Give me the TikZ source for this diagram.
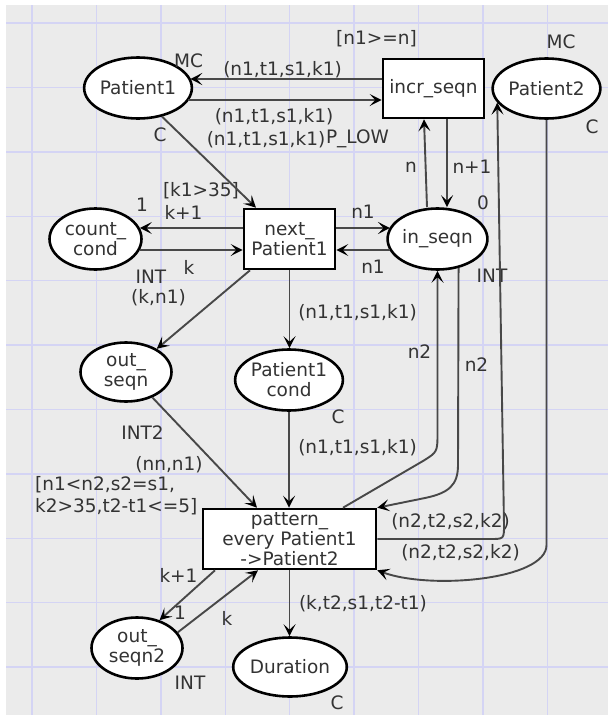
\documentclass[tikz,border=0pt]{standalone}
\usepackage{fontspec}
\setmainfont{DejaVu Sans}
\usetikzlibrary{shapes.geometric,arrows.meta}
\definecolor{canvas}{HTML}{EBEBEB}
\definecolor{gridline}{HTML}{D4D4F4}
\definecolor{arcgray}{HTML}{484848}
\definecolor{ink}{HTML}{333333}
\newcommand\cpnfont{\fontsize{18.5}{20}\selectfont}

\begin{document}
\begin{tikzpicture}[x=1pt,y=-1pt,
  place/.style={ellipse, draw=black, line width=2.6pt, fill=white, inner sep=0pt,
    align=center, text=ink, font=\cpnfont},
  trans/.style={rectangle, draw=black, line width=2.6pt, fill=white, inner sep=0pt,
    align=center, text=ink, font=\cpnfont},
  arc/.style={draw=arcgray, line width=1.9pt,
    -{Stealth[length=12pt,width=12pt,inset=5.5pt,color=black]}},
  lbl/.style={inner sep=0pt, text=ink, font=\cpnfont},
]
\useasboundingbox (0,0) rectangle (608,720);

% canvas and grid
\fill[white] (0,0) rectangle (608,720);
\fill[canvas] (6,5) rectangle (608,715);
\foreach \i in {0,...,8}
  \draw[gridline, line width=1.4pt] ({32+64.4*\i},5) -- ({32+64.4*\i},715);
\foreach \i in {0,...,10}
  \draw[gridline, line width=1.4pt] (6,{23+64.4*\i}) -- (608,{23+64.4*\i});

% places and transitions
\node[place, minimum width=93pt, minimum height=61pt] (P1) at (138,88) {Patient1};
\node[trans, minimum width=101pt, minimum height=59pt] (incr) at (433.5,88.5) {incr\_seqn};
\node[place, minimum width=92pt, minimum height=60pt] (P2) at (546.5,88.5) {Patient2};
\node[place, minimum width=92pt, minimum height=61pt] (cc) at (95.5,239) {count\_\\cond};
\node[trans, minimum width=91pt, minimum height=60pt] (np) at (289.5,239) {next\_\\Patient1};
\node[place, minimum width=92pt, minimum height=61pt] (ins) at (437.5,239) {in\_seqn};
\node[place, minimum width=91pt, minimum height=59pt] (os) at (126,372) {out\_\\seqn};
\node[place, minimum width=107pt, minimum height=61pt] (pc) at (289,380) {Patient1\\cond};
\node[trans, minimum width=173pt, minimum height=60pt] (pat) at (289.5,539) {pattern\_\\every Patient1\\->Patient2};
\node[place, minimum width=91pt, minimum height=61pt] (os2) at (137,648) {out\_\\seqn2};
\node[place, minimum width=105pt, minimum height=59pt] (dur) at (290,667) {Duration};

% inscriptions
\node[lbl] (mc1) at (188.5,61) {MC};
\node[lbl] (e1) at (282.5,70) {(n1,t1,s1,k1)};
\node[lbl] (g1) at (376.5,39) {[n1>=n]};
\node[lbl] (mc2) at (561,42) {MC};
\node[lbl] (c2) at (592,127) {C};
\node[lbl] (e2) at (274,117) {(n1,t1,s1,k1)};
\node[lbl] (e3) at (266,140) {(n1,t1,s1,k1)};
\node[lbl] (prio) at (357.5,139) {P\_LOW};
\node[lbl] (c1) at (160,135) {C};
\node[lbl] (g2) at (201,191) {[k1>35]};
\node[lbl] (m1) at (142,205) {1};
\node[lbl] (e4) at (183.5,212) {k+1};
\node[lbl] (e5) at (189,267) {k};
\node[lbl] (int1) at (151,277) {INT};
\node[lbl] (e6) at (158.5,298) {(k,n1)};
\node[lbl] (e7) at (363,212) {n1};
\node[lbl] (e8) at (373,267) {n1};
\node[lbl] (e9) at (357.5,313) {(n1,t1,s1,k1)};
\node[lbl] (e10) at (411,167) {n};
\node[lbl] (e11) at (472,167) {n+1};
\node[lbl] (m2) at (483,203) {0};
\node[lbl] (int2) at (492,276) {INT};
\node[lbl] (e12) at (419.5,352) {n2};
\node[lbl] (e13) at (476.5,365) {n2};
\node[lbl] (c3) at (338,417) {C};
\node[lbl] (e14) at (357.5,448) {(n1,t1,s1,k1)};
\node[lbl] (int3) at (142.5,433) {INT2};
\node[lbl] (e15) at (169,465) {(nn,n1)};
\node[lbl, anchor=west] (g3a) at (35,485) {[n1<n2,s2=s1,};
\node[lbl, anchor=west] (g3b) at (35,507) {k2>35,t2-t1<=5]};
\node[lbl] (e16) at (450.5,522) {(n2,t2,s2,k2)};
\node[lbl] (e17) at (460.5,553) {(n2,t2,s2,k2)};
\node[lbl] (e18) at (363,604) {(k,t2,s1,t2-t1)};
\node[lbl] (e19) at (178.5,575) {k+1};
\node[lbl] (m3) at (180,613) {1};
\node[lbl] (e20) at (227,618) {k};
\node[lbl] (int4) at (190,683) {INT};
\node[lbl] (c4) at (337,703) {C};

% arcs
\draw[arc] ([yshift=9.5pt]incr.west) -- ([yshift=9.5pt]incr.west -| P1.11);
\draw[arc] ([yshift=-11.5pt]incr.west -| P1.-15) -- ([yshift=-11.5pt]incr.west);
\draw[arc] (P1.-50) -- ([xshift=-33.5pt]np.north);
\draw[arc] ([yshift=11pt]np.west) -- ([yshift=11pt]np.west -| cc.14);
\draw[arc] ([yshift=-11pt]np.west -| cc.-14) -- ([yshift=-11pt]np.west);
\draw[arc] ([yshift=11pt]np.east) -- ([yshift=11pt]np.east -| ins.166);
\draw[arc] ([yshift=-11pt]np.east -| ins.194) -- ([yshift=-11pt]np.east);
\draw[arc] ([xshift=-10.5pt]ins.north) -- ([xshift=-9.5pt]incr.south);
\draw[arc] ([xshift=13.5pt]incr.south) -- ([xshift=9.5pt]ins.north);
\draw[arc] ([xshift=-39.5pt]np.south) -- (os.37);
\draw[arc] (np.south) -- (np.south |- pc.north);
\draw[arc] (os.-44) -- ([xshift=-32.5pt]pat.north);
\draw[arc] (pc.south) -- (pc.south |- pat.north);
\draw[arc] ([xshift=53.5pt]pat.north) -- (423,461) .. controls (437.5,452) .. (437.5,432) -- (ins.south);
\draw[arc] (ins.-54) -- (458,465) .. controls (458,485) and (449,493) .. (425,498) -- (pat.north east);
\draw[arc] (pat.east) -- (490,539) .. controls (504,539) .. (504,525) -- (P2.196);
\draw[arc] (P2.south) -- (546.5,545) .. controls (546.5,580) and (430,590) .. (pat.south east);
\draw[arc] ([xshift=-74.5pt]pat.south) -- (os2.51);
\draw[arc] (os2.21) -- ([xshift=-31.5pt]pat.south);
\draw[arc] (pat.south) -- (pat.south |- dur.north);
\end{tikzpicture}
\end{document}
